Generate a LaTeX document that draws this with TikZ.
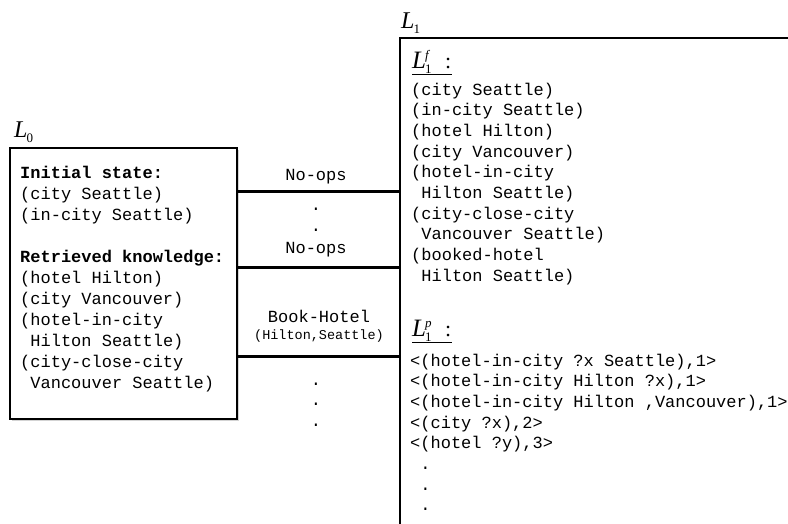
\documentclass[tikz,border=0pt]{standalone}
\usepackage{fontspec}
\setmonofont{Liberation Mono}
\newfontfamily\tms{Liberation Serif}
\usetikzlibrary{shadows}

% level name: italic L with a subscript and an optional superscript
\newcommand\lvlname[4]{{\tms\fontsize{#1}{#1}\selectfont\itshape L}\kern-1pt\rlap{\raisebox{-5.5pt}{\tms\fontsize{#4}{#4}\selectfont #2}}\raisebox{9pt}{\tms\fontsize{#4}{#4}\selectfont\itshape #3}}
\newcommand\leadsp{\hphantom{x}}

\begin{document}
\begin{tikzpicture}[x=1pt,y=-1pt,
  box/.style={draw=black, line width=1.2pt, fill=white, inner sep=0pt, outer sep=0pt,
    drop shadow={shadow xshift=1.5pt, shadow yshift=-1.5pt, opacity=0.35, fill=gray}},
  link/.style={line width=3pt},
  % multi-line blocks are placed by the baseline of their last line
  code/.style={font=\ttfamily\fontsize{17}{21}\selectfont, align=left, inner sep=0pt, anchor=base west},
  codeL/.style={font=\ttfamily\fontsize{17}{20.7}\selectfont, align=left, inner sep=0pt, anchor=base west},
  oplabel/.style={font=\ttfamily\fontsize{17}{21}\selectfont, inner sep=0pt, anchor=base},
  argl/.style={font=\ttfamily\fontsize{13.5}{15}\selectfont, inner sep=0pt, anchor=base},
  lvl/.style={inner sep=0pt, anchor=base west},
  subhead/.style={inner sep=0pt, anchor=base west},
  rule/.style={line width=1pt}]
\useasboundingbox (0,0) rectangle (788,523);
\clip (0,0) rectangle (788,523);

% the two levels
\node[box, anchor=north west, minimum width=227pt, minimum height=271pt] (lzero) at (10,148) {};
\node[box, anchor=north west, minimum width=500pt, minimum height=600pt] (lone) at (400,38) {};

\node[lvl] (lzname) at (14,137) {\lvlname{24}{0}{}{13}};
\node[lvl] (loname) at (401,28) {\lvlname{24}{1}{}{13}};

% contents of L0
\node[code] (lztext) at (20,388) {\textbf{Initial state:}\\
(city Seattle)\\
(in-city Seattle)\\[21pt]
\textbf{Retrieved knowledge:}\\
(hotel Hilton)\\
(city Vancouver)\\
(hotel-in-city\\
\leadsp Hilton Seattle)\\
(city-close-city\\
\leadsp Vancouver Seattle)};

% facts of L1
\node[subhead] (lfhead) at (412,68) {\makebox[33pt][l]{\lvlname{25}{1}{f}{13}}{\tms\fontsize{22}{22}\selectfont :}};
\draw[rule] ([yshift=-1pt]lfhead.south west) -- ([yshift=-1pt]lfhead.south east);
\node[codeL] (lftext) at (411,281.3) {(city Seattle)\\
(in-city Seattle)\\
(hotel Hilton)\\
(city Vancouver)\\
(hotel-in-city\\
\leadsp Hilton Seattle)\\
(city-close-city\\
\leadsp Vancouver Seattle)\\
(booked-hotel\\
\leadsp Hilton Seattle)};

% predicates of L1
\node[subhead] (lphead) at (412,336) {\makebox[33pt][l]{\lvlname{25}{1}{p}{13}}{\tms\fontsize{22}{22}\selectfont :}};
\draw[rule] ([yshift=-1pt]lphead.south west) -- ([yshift=-1pt]lphead.south east);
\node[codeL] (lptext) at (410,510.9) {<(hotel-in-city ?x Seattle),1>\\
<(hotel-in-city Hilton ?x),1>\\
<(hotel-in-city Hilton ,Vancouver),1>\\
<(city ?x),2>\\
<(hotel ?y),3>\\
\leadsp.\\
\leadsp.\\
\leadsp.};

% actions between the levels
\coordinate (r1) at (0,191);
\coordinate (r2) at (0,267);
\coordinate (r3) at (0,356);
\draw[link] (lzero.east |- r1) -- (lone.west |- r1);
\draw[link] (lzero.east |- r2) -- (lone.west |- r2);
\draw[link] (lzero.east |- r3) -- (lone.west |- r3);

\node[oplabel] (op1) at (316,180) {No-ops};
\node[oplabel] (d1) at (316,210) {.};
\node[oplabel] (d2) at (316,231) {.};
\node[oplabel] (op2) at (316,253) {No-ops};
\node[oplabel] (op3) at (319,322) {Book-Hotel};
\node[argl] (op3a) at (319,339) {(Hilton,Seattle)};
\node[oplabel] (d3) at (316,385) {.};
\node[oplabel] (d4) at (316,405) {.};
\node[oplabel] (d5) at (316,426) {.};
\end{tikzpicture}
\end{document}
